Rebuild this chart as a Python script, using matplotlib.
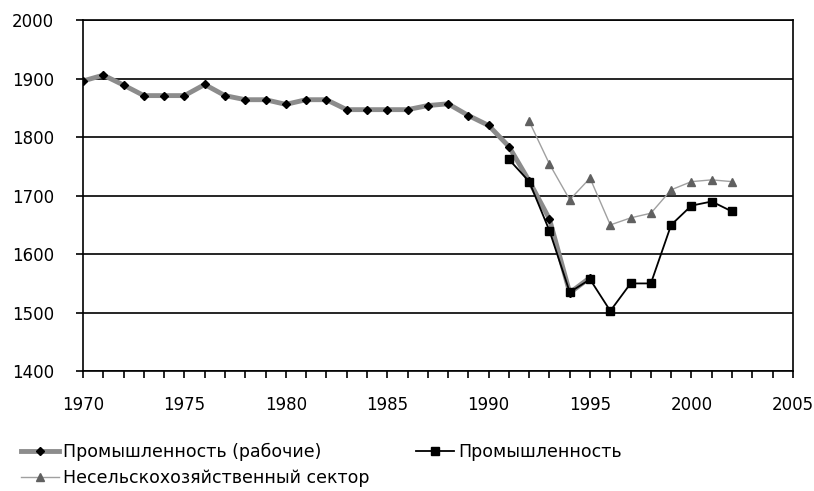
import matplotlib
matplotlib.use("Agg")
import matplotlib.pyplot as plt
from matplotlib.ticker import MultipleLocator

plt.rcParams['font.family'] = ['DejaVu Sans']

years1 = list(range(1970, 1996))
workers = [1896, 1906, 1889, 1871, 1871, 1871, 1890, 1871, 1864, 1864,
           1856, 1864, 1864, 1847, 1847, 1847, 1847, 1854, 1857, 1837,
           1820, 1784, 1725, 1660, 1534, 1560]

years2 = list(range(1991, 2003))
industry = [1762, 1724, 1640, 1535, 1557, 1503, 1550, 1550, 1650, 1683, 1690, 1673]

years3 = list(range(1992, 2003))
nonagri = [1827, 1754, 1693, 1730, 1650, 1662, 1670, 1710, 1724, 1727, 1724]

labels = ['Промышленность (рабочие)', 'Промышленность', 'Несельскохозяйственный сектор']

fig = plt.figure(figsize=(8.14, 4.91), dpi=100)
ax = fig.add_axes([0.102, 0.244, 0.872, 0.715])

l1, = ax.plot(years1, workers, color='#8c8c8c', lw=3.5, marker='D', ms=4.5,
              mfc='black', mec='black', zorder=3, label=labels[0])
l2, = ax.plot(years2, industry, color='black', lw=1.3, marker='s', ms=5.5,
              mfc='black', mec='black', zorder=4, label=labels[1])
l3, = ax.plot(years3, nonagri, color='#a0a0a0', lw=1.0, marker='^', ms=6,
              mfc='#606060', mec='#606060', zorder=2, label=labels[2])

ax.set_xlim(1970, 2005)
ax.set_ylim(1400, 2000)
ax.xaxis.set_major_locator(MultipleLocator(5))
ax.xaxis.set_minor_locator(MultipleLocator(1))
ax.yaxis.set_major_locator(MultipleLocator(100))
ax.yaxis.grid(True, color='black', lw=1.2)
ax.set_axisbelow(True)
for s in ax.spines.values():
    s.set_linewidth(1.2)
ax.tick_params(axis='both', which='major', direction='out', length=5, width=1.2,
               labelsize=12, colors='black')
ax.tick_params(axis='x', which='minor', direction='out', length=5, width=1.2)
ax.tick_params(axis='x', pad=13)
ax.tick_params(axis='y', pad=16)

fig.legend(handles=[l1, l3, l2], labels=[labels[0], labels[2], labels[1]],
           loc='upper left', bbox_to_anchor=(0.026, 0.098), ncol=2,
           frameon=False, fontsize=12.5, handlelength=2.2, handletextpad=0.2,
           columnspacing=2.7, labelspacing=0.45, borderaxespad=0, borderpad=0)

fig.savefig('out.png', dpi=100)
